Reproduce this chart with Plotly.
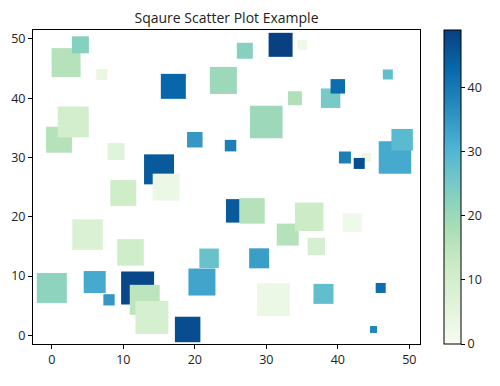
import plotly.graph_objects as go

# data (in drawing order)
xs = [2, 4, 7, 17, 24, 1, 3, 9, 20, 15, 16, 10, 32, 35, 27, 34, 39, 40, 47, 30,
      25, 41, 44, 43, 48, 49, 5, 11, 0, 6, 8, 12, 13, 14, 19, 22, 21, 26, 28, 33,
      36, 37, 42, 29, 31, 38, 46, 45]
ys = [46, 49, 44, 42, 43, 33, 36, 31, 33, 28, 25, 24, 49, 49, 48, 40, 40, 42, 44, 36,
      32, 30, 30, 29, 30, 33, 17, 14, 8, 9, 6, 8, 6, 3, 1, 13, 9, 21, 21, 17,
      20, 15, 19, 13, 6, 7, 8, 1]
sizes = [29, 17, 11, 25, 27, 26, 31, 17, 15.5, 30, 27, 26, 24, 10, 16, 14, 19.5, 14.5, 10, 32.5,
         11.5, 12, 9, 11, 32.5, 21.5, 30.5, 26.5, 30, 22, 11.3, 33, 30, 33, 25.5, 19.5, 27, 23.5, 25.5, 22,
         28.5, 17.3, 19, 20, 33, 20, 10, 7]
colors = [16, 23, 4, 43, 20, 16, 10, 6, 35, 45, 3, 11, 49, 2, 23, 17, 25, 42, 28, 20,
          39, 39, 3, 47, 32, 29, 8, 11, 22, 32, 35, 48, 15, 9, 47, 27, 33, 45, 16, 16,
          12, 9, 2, 34, 3, 28, 42, 38]

cbar_ticks = [0, 10, 20, 30, 40]
axis_ticks = [0, 10, 20, 30, 40, 50]

fig = go.Figure(go.Scatter(
    x=xs, y=ys, mode="markers",
    marker=dict(symbol="square", size=sizes, color=colors, opacity=1,
                colorscale="GnBu", cmin=0, cmax=49, line=dict(width=0),
                colorbar=dict(x=1.062, xanchor="left", xpad=0, y=0.5, yanchor="middle",
                              len=1, lenmode="fraction", thickness=17,
                              outlinewidth=1, outlinecolor="black",
                              tickvals=cbar_ticks, ticks="outside", ticklen=4,
                              tickcolor="black", ypad=0,
                              tickfont=dict(family="Open Sans", size=12.5, color="#222"))),
    hoverinfo="skip"))

axis_common = dict(showgrid=False, zeroline=False, showline=True, linecolor="black",
                   linewidth=1, mirror=True, ticks="outside", ticklen=4, tickcolor="black",
                   automargin=False,
                   tickfont=dict(family="Open Sans", size=12.5, color="#222"))

fig.update_layout(
    width=500, height=386,
    margin=dict(l=25, r=88, t=22, b=50, autoexpand=False),
    paper_bgcolor="white", plot_bgcolor="white",
    showlegend=False,
    title=dict(text="Sqaure Scatter Plot Example", xref="paper", x=0.5, xanchor="center",
               y=1 - 10 / 386, yanchor="middle",
               font=dict(family="Open Sans", size=14, color="#222")),
    xaxis=dict(range=[-2.63, 51.5], tickvals=axis_ticks, **axis_common),
    yaxis=dict(range=[-1.45, 51.5], tickvals=axis_ticks, **axis_common),
)

fig.write_html("out.html")
